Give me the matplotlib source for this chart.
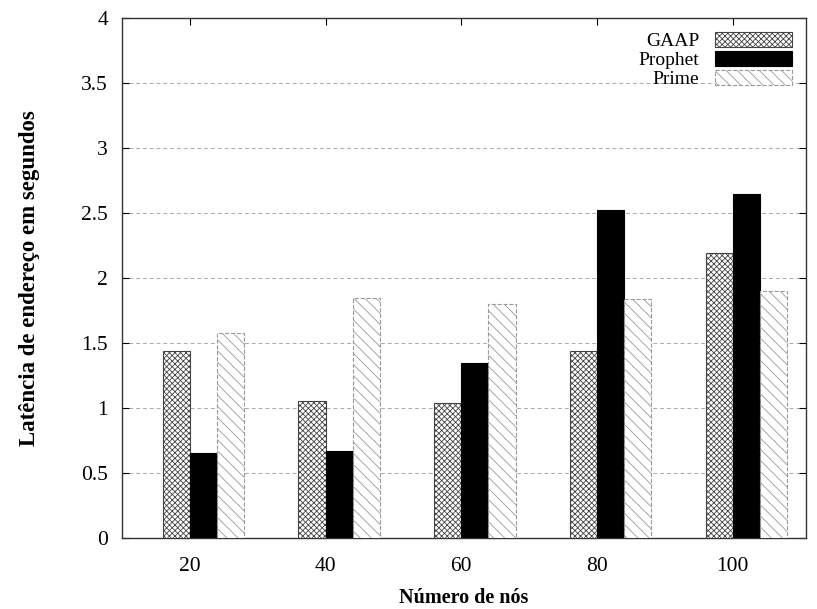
import matplotlib
matplotlib.use('Agg')
import matplotlib.pyplot as plt
import numpy as np

nodes = ['20', '40', '60', '80', '100']
gaap = [1.44, 1.05, 1.04, 1.44, 2.19]
prophet = [0.65, 0.67, 1.35, 2.52, 2.65]
prime = [1.58, 1.85, 1.80, 1.84, 1.90]

plt.rcParams['font.family'] = ['Liberation Serif', 'DejaVu Serif']
plt.rcParams['hatch.linewidth'] = 0.6

fig = plt.figure(figsize=(8.17, 6.09), dpi=100)
ax = fig.add_axes([0.1493, 0.1166, 0.8372, 0.8538])

x = np.arange(len(nodes))
w = 0.2
ax.bar(x - w / 2, gaap, w, color='white', edgecolor='#444444', hatch='xxxxxx',
       linewidth=0.8, label='GAAP', zorder=3)
ax.bar(x + w / 2, prophet, w, color='black', edgecolor='black',
       linewidth=0.8, label='Prophet', zorder=3)
ax.bar(x + 1.5 * w, prime, w, color='white', edgecolor='#999999', hatch='\\\\\\',
       linewidth=0.8, linestyle='--', label='Prime', zorder=3)

ax.set_xlim(-0.5, 4.54)
ax.set_ylim(0, 4)
ax.set_xticks(x)
ax.set_xticklabels(nodes)
ax.set_yticks(np.arange(0, 4.01, 0.5))
ax.set_yticklabels(['0', '0.5', '1', '1.5', '2', '2.5', '3', '3.5', '4'])
ax.tick_params(direction='in', top=True, right=True, labelsize=15.5, length=5)
ax.tick_params(axis='x', pad=14)
ax.tick_params(axis='y', pad=10)
ax.yaxis.grid(True, linestyle=(0, (4, 3)), color='#aaaaaa', linewidth=0.7, zorder=0)
for s in ax.spines.values():
    s.set_linewidth(1.0)
    s.set_color('#333333')

ax.set_xlabel('Número de nós', fontsize=14.5, fontweight='bold', labelpad=8)
ax.set_ylabel('Latência de endereço em segundos', fontsize=16.5, fontweight='bold', labelpad=30)

leg = ax.legend(loc='upper right', frameon=False, markerfirst=False, fontsize=14,
                handlelength=4.0, handleheight=0.8, labelspacing=0.05,
                handletextpad=0.8, borderaxespad=0.3)
for t in leg.get_texts():
    t.set_ha('right')

fig.savefig('out.png', dpi=100)
